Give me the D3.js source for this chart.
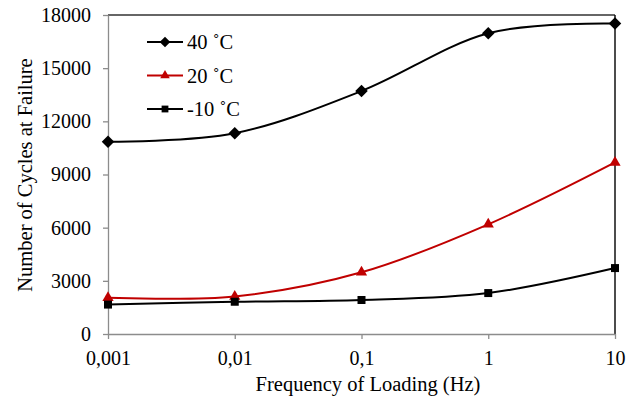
<!DOCTYPE html>
<html>
<head>
<meta charset="utf-8">
<script src="https://cdn.jsdelivr.net/npm/d3@7"></script>
<style>
  body { margin: 0; background: #fff; }
  svg text { font-family: "Times New Roman", "Liberation Serif", serif; }
</style>
</head>
<body>
<div id="chart"></div>
<script>
// frequency of loading (Hz) and cycles at failure
var freqs = [0.001, 0.01, 0.1, 1, 10];
var freqLabels = ["0,001", "0,01", "0,1", "1", "10"];
var cycles40 = [10850, 11330, 13710, 16970, 17520];
var cycles20 = [2050, 2120, 3480, 6190, 9680];
var cyclesM10 = [1660, 1820, 1920, 2310, 3720];
var yTicks = [0, 3000, 6000, 9000, 12000, 15000, 18000];
var seriesNames = ["40 ˚C", "20 ˚C", "-10 ˚C"];

var serif = "'Times New Roman', 'Liberation Serif', serif";
var width = 635, height = 398;
var margin = {top: 15, right: 20, bottom: 64, left: 108};
var iw = 615 - margin.left, ih = 334 - margin.top;

var svg = d3.select("#chart").append("svg")
    .attr("width", width)
    .attr("height", height);

var g = svg.append("g")
    .attr("transform", "translate(" + margin.left + "," + margin.top + ")");

var x = d3.scaleLog().domain([0.001, 10]).range([0, iw]);
var y = d3.scaleLinear().domain([0, 18000]).range([ih, 0]);

// plot frame top and right
g.append("line").attr("x1", 0).attr("x2", iw).attr("y1", 0).attr("y2", 0)
  .attr("stroke", "#333").attr("stroke-width", 1.3);
g.append("line").attr("x1", iw).attr("x2", iw).attr("y1", 0).attr("y2", ih)
  .attr("stroke", "#111").attr("stroke-width", 1.5);

// axes
var xAxis = d3.axisBottom(x).tickValues(freqs)
    .tickFormat(function(d, i){ return freqLabels[i]; })
    .tickSizeInner(5).tickSizeOuter(0).tickPadding(12);
var yAxis = d3.axisLeft(y).tickValues(yTicks)
    .tickFormat(function(d){ return d; })
    .tickSizeInner(5).tickSizeOuter(0).tickPadding(12);

var gx = g.append("g").attr("transform", "translate(0," + ih + ")").call(xAxis);
var gy = g.append("g").call(yAxis);

[gx, gy].forEach(function(a){
  a.attr("font-family", serif).attr("font-size", 20);
  a.selectAll("path, line").attr("stroke", "#8c8c8c").attr("stroke-width", 1.3);
  a.selectAll("text").attr("fill", "#000");
});

// axis titles
svg.append("text")
  .attr("x", 368).attr("y", 391)
  .attr("text-anchor", "middle")
  .attr("font-family", serif)
  .attr("font-size", 20.5)
  .text("Frequency of Loading (Hz)");

svg.append("text")
  .attr("transform", "translate(32,175) rotate(-90)")
  .attr("text-anchor", "middle")
  .attr("font-family", serif)
  .attr("font-size", 20.5)
  .text("Number of Cycles at Failure");

var line = d3.line()
    .x(function(d){ return x(d[0]); })
    .y(function(d){ return y(d[1]); })
    .curve(d3.curveCatmullRom.alpha(0));

var series = [
  {name: seriesNames[0], vals: cycles40, color: "#000", shape: d3.symbolSquare, size: 78, rot: 45},
  {name: seriesNames[1], vals: cycles20, color: "#c00000", shape: d3.symbolTriangle, size: 55, rot: 0},
  {name: seriesNames[2], vals: cyclesM10, color: "#000", shape: d3.symbolSquare, size: 64, rot: 0}
];

function markTf(s, px, py, k){
  return "translate(" + px + "," + py + ") rotate(" + s.rot + ") scale(" + k + ")";
}

series.forEach(function(s){
  var pts = freqs.map(function(f, i){ return [f, s.vals[i]]; });
  g.append("path")
    .attr("d", line(pts))
    .attr("fill", "none")
    .attr("stroke", s.color)
    .attr("stroke-width", 2);
  g.selectAll(null).data(pts).enter().append("path")
    .attr("d", d3.symbol().type(s.shape).size(s.size))
    .attr("transform", function(d){ return markTf(s, x(d[0]), y(d[1]), 1); })
    .attr("fill", s.color);
});

// legend
var leg = svg.append("g");
series.forEach(function(s, i){
  var ly = 42 + i * 33.5;
  leg.append("line").attr("x1", 147).attr("x2", 183).attr("y1", ly).attr("y2", ly)
    .attr("stroke", s.color).attr("stroke-width", 2);
  leg.append("path")
    .attr("d", d3.symbol().type(s.shape).size(s.size))
    .attr("transform", markTf(s, 165, ly, 0.85))
    .attr("fill", s.color);
  leg.append("text")
    .attr("x", 187).attr("y", ly + 7)
    .attr("font-family", serif)
    .attr("font-size", 20.5)
    .text(s.name);
});
</script>
</body>
</html>
